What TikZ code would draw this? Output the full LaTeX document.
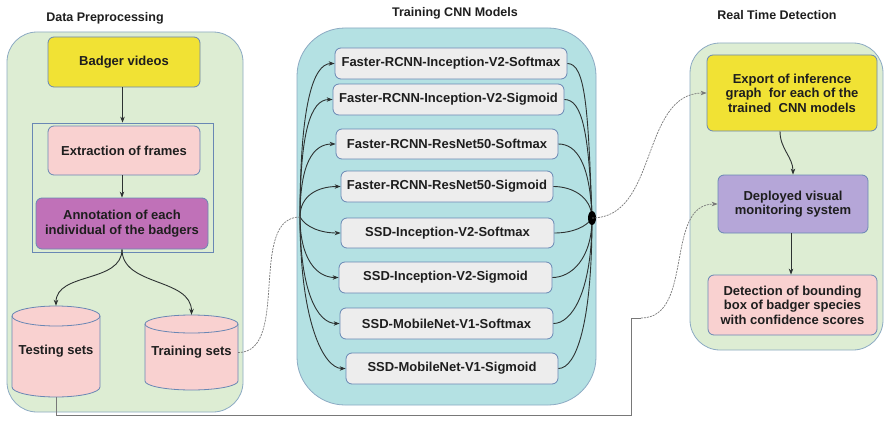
\documentclass[tikz,border=0pt]{standalone}
\usepackage{fontspec}
\setmainfont{Liberation Sans}
\usetikzlibrary{arrows.meta}
\definecolor{panelgreen}{RGB}{221,237,211}
\definecolor{panelcyan}{RGB}{180,225,227}
\definecolor{panelborder}{RGB}{140,170,195}
\definecolor{boxborder}{RGB}{105,135,180}
\definecolor{yellowbox}{RGB}{241,226,52}
\definecolor{pinkbox}{RGB}{249,209,208}
\definecolor{purplebox}{RGB}{192,113,184}
\definecolor{lavbox}{RGB}{181,166,216}
\definecolor{graybox}{RGB}{237,237,237}
\definecolor{txt}{RGB}{30,30,30}
\definecolor{wire}{RGB}{45,50,50}
\definecolor{dashwire}{RGB}{120,120,120}
\begin{document}
\begin{tikzpicture}[x=1pt,y=-1pt,
  title/.style={font=\bfseries\fontsize{12.5}{14}\selectfont, text=txt},
  panel/.style={draw=panelborder, line width=0.8pt},
  box/.style={draw=boxborder, line width=0.8pt, rounded corners=6pt, align=center,
    font=\bfseries\fontsize{13}{14.5}\selectfont, text=txt, inner sep=0pt},
  model/.style={box, fill=graybox},
  cyl/.style={draw=boxborder, line width=0.8pt, fill=pinkbox},
  lbl/.style={font=\bfseries\fontsize{13}{14.5}\selectfont, text=txt, inner sep=0pt},
  wirearrow/.style={draw=wire, line width=0.9pt, -{Stealth[length=6pt,width=4.5pt]}},
  wireplain/.style={draw=wire, line width=0.9pt},
  dashlink/.style={draw=dashwire, line width=0.7pt, dash pattern=on 2pt off 1pt},
  greyline/.style={draw=dashwire, line width=0.7pt}
]
\useasboundingbox (0,0) rectangle (885,420);
\fill[white] (0,0) rectangle (885,420);

% titles
\node[title] (t1) at (105,18) {Data Preprocessing};
\node[title] (t2) at (455,13) {Training CNN Models};
\node[title] (t3) at (777,15) {Real Time Detection};

% panels
\filldraw[panel, fill=panelgreen, rounded corners=30pt] (7,32) rectangle (243,412);
\filldraw[panel, fill=panelcyan, rounded corners=48pt] (297,28) rectangle (596,405);
\filldraw[panel, fill=panelgreen, rounded corners=30pt] (690,43) rectangle (883,350);

% left panel
\node[box, fill=yellowbox, minimum width=152pt, minimum height=50pt] (badger) at (124,62) {Badger videos};
\node[draw=boxborder, line width=0.7pt, minimum width=181pt, minimum height=129pt, inner sep=0pt] (frame) at (122.5,187.5) {};
\node[box, fill=pinkbox, minimum width=152pt, minimum height=49pt] (extract) at (124,150.5) {Extraction of frames};
\node[box, fill=purplebox, minimum width=172pt, minimum height=51pt] (annot) at (122,223.5) {Annotation of each\\individual of the badgers};

% cylinders
\filldraw[cyl] (12,316) -- (12,387) arc[start angle=180,end angle=360,x radius=44pt,y radius=10pt]
  -- (100,316) arc[start angle=0,end angle=180,x radius=44pt,y radius=10pt] -- cycle;
\draw[cyl, fill=none] (12,316) arc[start angle=180,end angle=360,x radius=44pt,y radius=10pt];
\filldraw[cyl] (145,324) -- (145,381) arc[start angle=180,end angle=360,x radius=46.5pt,y radius=9pt]
  -- (238,324) arc[start angle=0,end angle=180,x radius=46.5pt,y radius=9pt] -- cycle;
\draw[cyl, fill=none] (145,324) arc[start angle=180,end angle=360,x radius=46.5pt,y radius=9pt];
\node[lbl, minimum width=88pt, minimum height=91pt] (test) at (56,351.5) {Testing sets};
\node[lbl, minimum width=93pt, minimum height=75pt] (train) at (191.5,352.5) {Training sets};

\draw[wirearrow] (badger.south -| frame.north) -- (frame.north);
\draw[wirearrow] (extract.south -| annot.south) -- (annot.north);
\draw[wirearrow] (annot.south) to[out=-90,in=90] (test.north);
\draw[wirearrow] (annot.south) to[out=-90,in=90] (train.north);

% models
\node[model, minimum width=232pt, minimum height=31pt] (m1) at (451,63.5) {Faster-RCNN-Inception-V2-Softmax};
\node[model, minimum width=231pt, minimum height=31pt] (m2) at (448.5,99.5) {Faster-RCNN-Inception-V2-Sigmoid};
\node[model, minimum width=222pt, minimum height=30pt] (m3) at (447,144) {Faster-RCNN-ResNet50-Softmax};
\node[model, minimum width=212pt, minimum height=31pt] (m4) at (447,186.5) {Faster-RCNN-ResNet50-Sigmoid};
\node[model, minimum width=213pt, minimum height=30pt] (m5) at (447.5,233) {SSD-Inception-V2-Softmax};
\node[model, minimum width=213pt, minimum height=31pt] (m6) at (445.5,277.5) {SSD-Inception-V2-Sigmoid};
\node[model, minimum width=213pt, minimum height=31pt] (m7) at (446.5,323.5) {SSD-MobileNet-V1-Softmax};
\node[model, minimum width=212pt, minimum height=31pt] (m8) at (452,368.5) {SSD-MobileNet-V1-Sigmoid};

\coordinate (lj) at (300,217);
\coordinate (rj) at (592,218);

% left fan
\foreach \m/\d in {m1/110,m2/85,m3/55,m4/22}
  \draw[wirearrow] (lj) to[out=90,in=180,out distance=\d pt,in distance=22pt] (\m.west);
\draw[wirearrow] (lj) to[out=-60,in=180,out distance=12pt,in distance=20pt] (m5.west);
\foreach \m/\d in {m6/42,m7/75,m8/105}
  \draw[wirearrow] (lj) to[out=-90,in=180,out distance=\d pt,in distance=22pt] (\m.west);

% right fan
\foreach \m/\d in {m1/110,m2/85,m3/55,m4/22}
  \draw[wireplain] (\m.east) to[out=0,in=92,out distance=18pt,in distance=\d pt] (rj);
\draw[wireplain] (m5.east) to[out=0,in=-120,out distance=18pt,in distance=10pt] (rj);
\foreach \m/\d in {m6/42,m7/75,m8/105}
  \draw[wireplain] (\m.east) to[out=0,in=-90,out distance=18pt,in distance=\d pt] (rj);
\fill[black] (rj) ellipse[x radius=4pt, y radius=7pt];

% right panel
\node[box, fill=yellowbox, minimum width=170pt, minimum height=76pt] (export) at (792,93) {Export of inference\\graph\ \ for each of the\\trained\ \ CNN models};
\node[box, fill=lavbox, minimum width=150pt, minimum height=58pt] (deploy) at (793,204) {Deployed visual\\monitoring system};
\node[box, fill=pinkbox, minimum width=169pt, minimum height=60pt] (detect) at (792.5,305) {Detection of bounding\\box of badger species\\with confidence scores};

\draw[wirearrow] ([xshift=-12pt]export.south) to[out=-90,in=90] (deploy.north);
\draw[wirearrow] ([xshift=-2pt]deploy.south) -- ([xshift=-1.5pt]detect.north);

% cross-panel links
\draw[dashlink] (train.east) to[out=0,in=180,looseness=0.9] (lj);
\draw[dashlink, -{Stealth[length=6pt,width=4.5pt]}] (rj) to[out=0,in=180] (export.west);
\coordinate (c1) at (56,415);
\coordinate (c2) at (631,415);
\coordinate (c3) at (631,318);
\coordinate (c4) at (641,318);
\draw[greyline] (test.south) -- (c1) -- (c2) -- (c3) -- (c4);
\draw[dashlink, -{Stealth[length=6pt,width=4.5pt]}] (c4) to[out=0,in=180] (deploy.west);
\end{tikzpicture}
\end{document}
